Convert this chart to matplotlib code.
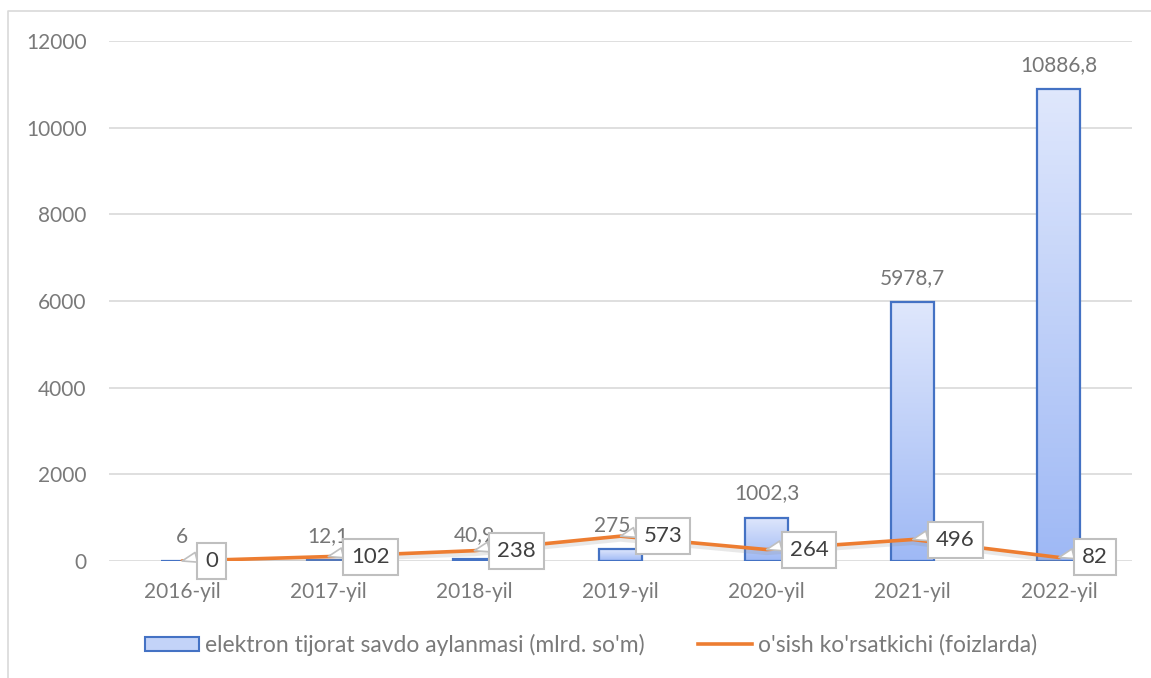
import matplotlib
matplotlib.use('Agg')
import matplotlib.pyplot as plt
import matplotlib.patheffects as pe
from matplotlib.colors import LinearSegmentedColormap
from matplotlib.lines import Line2D
from matplotlib.patches import Patch
import numpy as np

plt.rcParams['font.family'] = ['Lato', 'DejaVu Sans']

# data
years = ['2016-yil', '2017-yil', '2018-yil', '2019-yil', '2020-yil', '2021-yil', '2022-yil']
turnover = [6, 12.1, 40.9, 275.9, 1002.3, 5978.7, 10886.8]
turnover_labels = ['6', '12,1', '40,9', '275,9', '1002,3', '5978,7', '10886,8']
growth = [0, 102, 238, 573, 264, 496, 82]
growth_labels = ['0', '102', '238', '573', '264', '496', '82']

W, H = 1151, 678
fig = plt.figure(figsize=(W / 100, H / 100), dpi=100)
ax = fig.add_axes([109 / W, 1 - 561 / H, (1132 - 109) / W, 520 / H])

x = np.arange(len(years))
bar_w = 0.295
grad = LinearSegmentedColormap.from_list('g', ['#9fb9f5', '#dfe7fc'])

# bars with vertical gradient
bars = ax.bar(x, turnover, width=bar_w, color='none', edgecolor='#4472c4', linewidth=1.6, zorder=3)
for b in bars:
    bx, by = b.get_x(), b.get_y()
    bw, bh = b.get_width(), b.get_height()
    im = ax.imshow(np.linspace(0, 1, 100).reshape(-1, 1), cmap=grad, aspect='auto',
                   origin='lower', extent=[bx, bx + bw, by, by + bh], zorder=2)
    im.set_clip_path(b)

# line with soft shadow
ax.plot(x, growth, color='#ed7d31', linewidth=2.6, zorder=5, solid_capstyle='round',
        path_effects=[pe.SimpleLineShadow(offset=(0, -2), shadow_color='#909090', alpha=0.2, linewidth=4),
                      pe.Normal()])

# bar value labels
for xi, v, lab in zip(x, turnover, turnover_labels):
    ax.annotate(lab, (xi, v), xytext=(0, 24), textcoords='offset pixels',
                ha='center', va='center', fontsize=15, color='#767676', zorder=6)

# callouts for the line
for xi, v, lab in zip(x, growth, growth_labels):
    ax.annotate(lab, (xi, v), xytext=(23, 0), textcoords='offset pixels',
                ha='left', va='center', fontsize=16, color='#404040', zorder=8,
                bbox=dict(boxstyle='square,pad=0.36', fc='white', ec='#bfbfbf', lw=1.5),
                arrowprops=dict(arrowstyle='wedge,tail_width=0.45,shrink_factor=0.5',
                                fc='white', ec='#bfbfbf', lw=1.2, relpos=(0.0, 0.8),
                                shrinkA=0, shrinkB=0))

ax.set_xlim(-0.5, len(years) - 0.5)
ax.set_ylim(0, 12000)
ax.set_yticks(range(0, 12001, 2000))
ax.set_xticks(x)
ax.set_xticklabels(years)
ax.tick_params(axis='both', length=0, labelsize=15, labelcolor='#7a7a7a')
ax.tick_params(axis='y', pad=16)
ax.tick_params(axis='x', pad=15)
ax.grid(axis='y', color='#d9d9d9', linewidth=1.2, zorder=0)
ax.set_axisbelow(True)
for s in ax.spines.values():
    s.set_visible(False)

# legend
handles = [Patch(facecolor='#c3d3f8', edgecolor='#4472c4', linewidth=1.5),
           Line2D([], [], color='#ed7d31', linewidth=2.6)]
fig.legend(handles, ["elektron tijorat savdo aylanmasi (mlrd. so'm)", "o'sish ko'rsatkichi (foizlarda)"],
           loc='center left', bbox_to_anchor=(145 / W, 1 - 645 / H), ncol=2, frameon=False,
           fontsize=16.5, labelcolor='#7a7a7a', handlelength=2.35, handleheight=0.6,
           handletextpad=0.25, columnspacing=2.35, borderpad=0, borderaxespad=0)

# outer chart border (left and top)
fig.add_artist(Line2D([8 / W, 8 / W, 1], [0, 1 - 11 / H, 1 - 11 / H], color='#d9d9d9', linewidth=1.2))

fig.savefig('out.png', dpi=100)
